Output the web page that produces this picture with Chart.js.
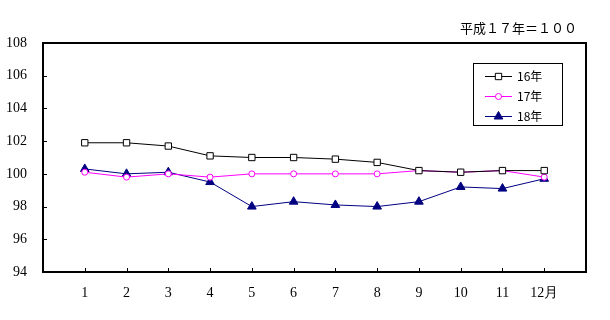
<!DOCTYPE html>
<html>
<head>
<meta charset="utf-8">
<script src="https://cdn.jsdelivr.net/npm/chart.js@4.4.0/dist/chart.umd.min.js"></script>
<style>
  html, body { margin: 0; padding: 0; background: #fff; }
  canvas { display: block; }
</style>
</head>
<body>
<canvas id="chart" width="610" height="320"></canvas>
<script>
// 平成17年=100
const months = [1, 2, 3, 4, 5, 6, 7, 8, 9, 10, 11, 12];
const monthLabels = ['1', '2', '3', '4', '5', '6', '7', '8', '9', '10', '11', '12月'];
const series16 = [101.9, 101.9, 101.7, 101.1, 101.0, 101.0, 100.9, 100.7, 100.2, 100.1, 100.2, 100.2];
const series17 = [100.1, 99.8, 100.0, 99.8, 100.0, 100.0, 100.0, 100.0, 100.2, 100.1, 100.2, 99.8];
const series18 = [100.3, 100.0, 100.1, 99.5, 98.0, 98.3, 98.1, 98.0, 98.3, 99.2, 99.1, 99.7];
const seriesNames = ['16年', '17年', '18年'];
const yTicks = [94, 96, 98, 100, 102, 104, 106, 108];

const toPoints = vals => vals.map((v, i) => ({ x: months[i], y: v }));

const serif = "'Liberation Serif', 'DejaVu Serif', serif";
const gothic = "'Noto Sans CJK JP', 'Noto Sans', sans-serif";

function drawMarker(ctx, ds, x, y) {
  ctx.save();
  ctx.fillStyle = ds.pointBackgroundColor;
  ctx.strokeStyle = ds.pointBorderColor;
  ctx.lineWidth = ds.pointBorderWidth;
  Chart.helpers.drawPoint(ctx, {
    pointStyle: ds.pointStyle,
    radius: ds.pointRadius,
    borderWidth: ds.pointBorderWidth,
    rotation: 0
  }, x, y);
  ctx.restore();
}

// frame, inward tick marks, legend box and unit note
const decor = {
  id: 'decor',
  afterDraw(chart) {
    const ctx = chart.ctx;
    const a = chart.chartArea;
    const xs = chart.scales.x, ys = chart.scales.y;
    ctx.save();
    ctx.strokeStyle = '#000';
    ctx.lineWidth = 1;
    ctx.beginPath();
    months.forEach(m => {
      const px = Math.round(xs.getPixelForValue(m)) + 0.5;
      ctx.moveTo(px, a.bottom);
      ctx.lineTo(px, a.bottom - 4);
    });
    yTicks.slice(1, -1).forEach(v => {
      const py = Math.round(ys.getPixelForValue(v)) + 0.5;
      ctx.moveTo(a.left, py);
      ctx.lineTo(a.left + 4, py);
    });
    ctx.stroke();

    ctx.lineWidth = 2;
    ctx.strokeRect(a.left, a.top, a.right - a.left, a.bottom - a.top);

    // legend
    ctx.lineWidth = 1;
    ctx.fillStyle = '#fff';
    ctx.fillRect(473.5, 63.5, 89, 62);
    ctx.strokeStyle = '#000';
    ctx.strokeRect(473.5, 63.5, 89, 62);
    const rowsY = [76, 96, 116];
    chart.data.datasets.forEach((ds, i) => {
      const y = rowsY[i] + 0.5;
      ctx.strokeStyle = ds.borderColor;
      ctx.lineWidth = 1;
      ctx.beginPath();
      ctx.moveTo(485, y);
      ctx.lineTo(512, y);
      ctx.stroke();
      drawMarker(ctx, ds, 498.5, y);
      ctx.fillStyle = '#000';
      ctx.font = '12px ' + gothic;
      ctx.textBaseline = 'middle';
      ctx.textAlign = 'left';
      ctx.fillText(ds.label, 517, y);
    });

    ctx.fillStyle = '#000';
    ctx.font = '13px ' + gothic;
    ctx.textAlign = 'right';
    ctx.textBaseline = 'middle';
    ctx.fillText('平成１７年＝１００', 577, 28);
    ctx.restore();
  }
};

new Chart(document.getElementById('chart'), {
  type: 'line',
  data: {
    datasets: [
      {
        label: seriesNames[0],
        data: toPoints(series16),
        borderColor: '#000000',
        borderWidth: 1,
        pointStyle: 'rect',
        pointRadius: 4.5,
        pointBorderWidth: 1,
        pointBackgroundColor: '#ffffff',
        pointBorderColor: '#000000'
      },
      {
        label: seriesNames[1],
        data: toPoints(series17),
        borderColor: '#ff00ff',
        borderWidth: 1,
        pointStyle: 'circle',
        pointRadius: 3,
        pointBorderWidth: 1,
        pointBackgroundColor: '#ffffff',
        pointBorderColor: '#ff00ff'
      },
      {
        label: seriesNames[2],
        data: toPoints(series18),
        borderColor: '#000080',
        borderWidth: 1,
        pointStyle: 'triangle',
        pointRadius: 5,
        pointBorderWidth: 1,
        pointBackgroundColor: '#000080',
        pointBorderColor: '#000080'
      }
    ]
  },
  options: {
    responsive: false,
    animation: false,
    layout: { padding: { top: 43, right: 24, left: 0, bottom: 0 } },
    plugins: {
      legend: { display: false },
      tooltip: { enabled: false }
    },
    scales: {
      x: {
        type: 'linear',
        min: 0,
        max: 13,
        afterFit: s => { s.height = 48; },
        afterBuildTicks: s => { s.ticks = months.map(m => ({ value: m })); },
        grid: { display: false, drawTicks: false },
        border: { display: false },
        ticks: {
          autoSkip: false,
          padding: 13,
          color: '#000',
          font: { family: serif, size: 14 },
          callback: v => monthLabels[v - 1] || ''
        }
      },
      y: {
        min: 94,
        max: 108,
        afterFit: s => { s.width = 43; },
        afterBuildTicks: s => { s.ticks = yTicks.map(v => ({ value: v })); },
        grid: { display: false, drawTicks: false },
        border: { display: false },
        ticks: {
          padding: 16,
          color: '#000',
          font: { family: serif, size: 14 }
        }
      }
    }
  },
  plugins: [decor]
});
</script>
</body>
</html>
